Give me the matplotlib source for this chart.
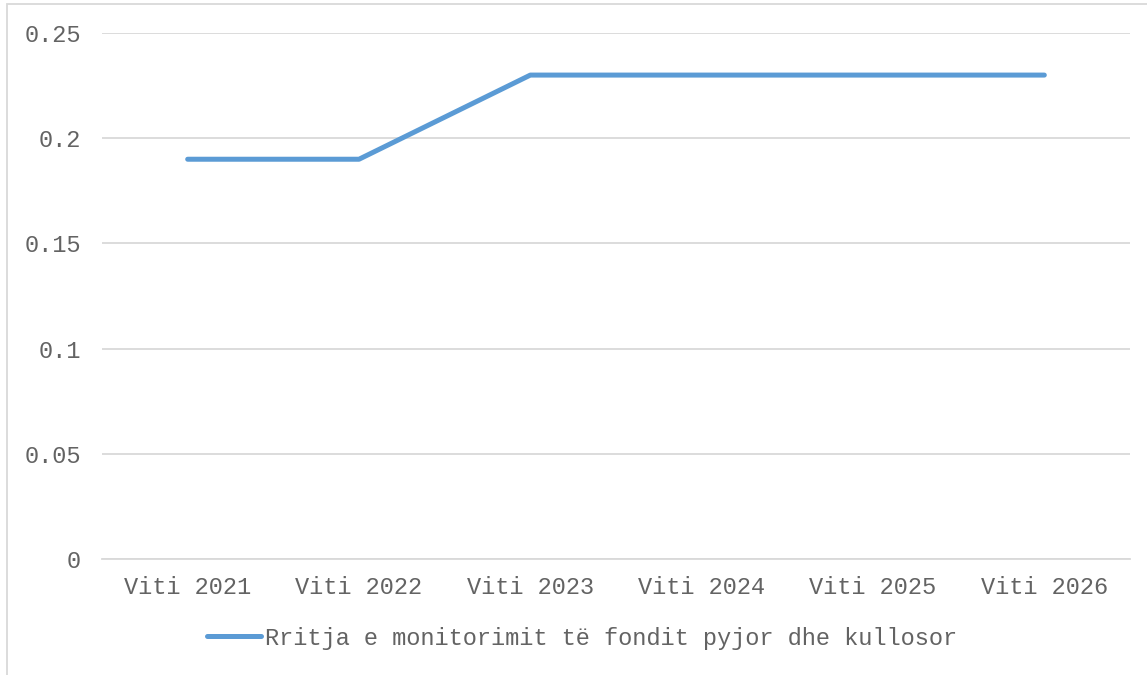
import matplotlib
matplotlib.use("Agg")
import matplotlib.pyplot as plt
from matplotlib.patches import Rectangle

# data
years       = ["Viti 2021", "Viti 2022", "Viti 2023", "Viti 2024", "Viti 2025", "Viti 2026"]
values      = [0.19, 0.19, 0.23, 0.23, 0.23, 0.23]
series_name = "Rritja e monitorimit të fondit pyjor dhe kullosor"
y_ticks     = [0, 0.05, 0.1, 0.15, 0.2, 0.25]
y_labels    = ["0", "0.05", "0.1", "0.15", "0.2", "0.25"]

W, H = 1147, 675
TXT = "#636363"
fig = plt.figure(figsize=(W / 100, H / 100), dpi=100)
plt.rcParams['font.family'] = ['Liberation Mono', 'DejaVu Sans Mono']

# chart border (light gray, left/top visible)
fig.patches.append(Rectangle((7 / W, -0.1), 1.2, (H - 4) / H + 0.1,
                             transform=fig.transFigure, fill=False,
                             edgecolor="#D9D9D9", linewidth=1.3))

ax = fig.add_axes([102 / W, 1 - 559 / H, (1130 - 102) / W, (559 - 33) / H])
x = list(range(len(years)))
line, = ax.plot(x, values, color="#5B9BD5", linewidth=3.6,
                solid_capstyle="round", label=series_name)

ax.set_xlim(-0.5, len(years) - 0.5)
ax.set_ylim(0, 0.25)
ax.set_yticks(y_ticks)
ax.set_yticklabels(y_labels)
ax.set_xticks(x)
ax.set_xticklabels(years)

ax.grid(axis="y", color="#D9D9D9", linewidth=1.3)
ax.set_axisbelow(True)
for s in ["top", "right", "left"]:
    ax.spines[s].set_visible(False)
ax.spines["bottom"].set_color("#D9D9D9")
ax.spines["bottom"].set_linewidth(1.3)
ax.tick_params(axis="both", length=0, labelsize=17, labelcolor=TXT)
ax.tick_params(axis="y", pad=15)
ax.tick_params(axis="x", pad=12)

fig.legend(handles=[line], loc="center", bbox_to_anchor=(582 / W, 1 - 638 / H),
           frameon=False, fontsize=17, labelcolor=TXT,
           handlelength=2.3, handletextpad=0.15)

fig.savefig("out.png", dpi=100)
